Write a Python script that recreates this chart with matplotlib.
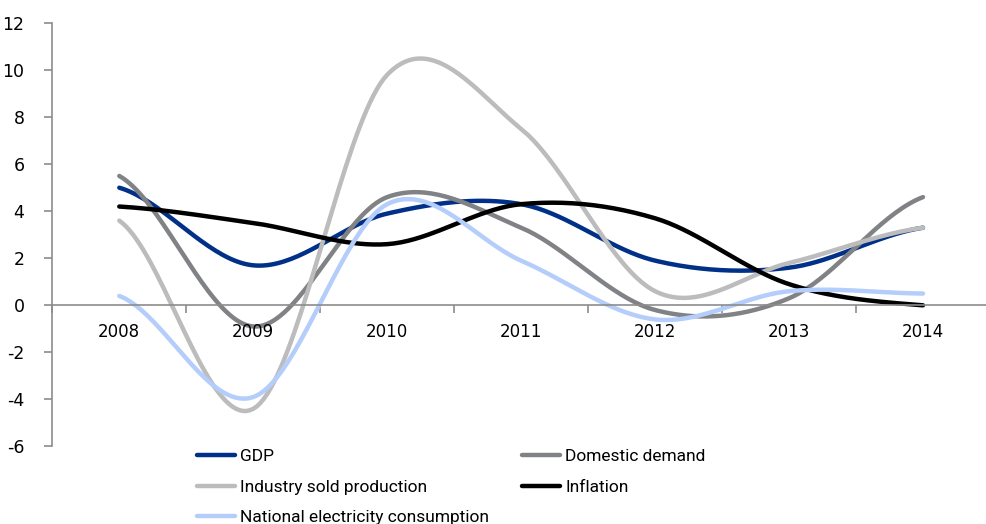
import numpy as np
import matplotlib
matplotlib.use("Agg")
import matplotlib.pyplot as plt
from matplotlib.lines import Line2D

plt.rcParams["axes.unicode_minus"] = False
plt.rcParams["font.family"] = ["DejaVu Sans"]

years = ["2008", "2009", "2010", "2011", "2012", "2013", "2014"]
gdp = [5.0, 1.7, 3.9, 4.3, 1.9, 1.6, 3.3]
domestic = [5.5, -0.9, 4.6, 3.3, -0.2, 0.3, 4.6]
industry = [3.6, -4.4, 9.8, 7.5, 0.6, 1.8, 3.3]
inflation = [4.2, 3.5, 2.6, 4.3, 3.7, 0.9, 0.0]
electricity = [0.4, -3.9, 4.3, 1.9, -0.6, 0.6, 0.5]

series = [
    ("GDP", gdp, "#003087"),
    ("Domestic demand", domestic, "#808285"),
    ("Industry sold production", industry, "#bcbcbc"),
    ("Inflation", inflation, "#000000"),
    ("National electricity consumption", electricity, "#b4cdfa"),
]


def smooth(xs, ys, n=40, tension=0.5):
    xs = np.asarray(xs, float)
    ys = np.asarray(ys, float)
    px = np.concatenate([[2 * xs[0] - xs[1]], xs, [2 * xs[-1] - xs[-2]]])
    py = np.concatenate([[ys[0]], ys, [ys[-1]]])
    outx, outy = [], []
    for i in range(1, len(px) - 2):
        p0x, p1x, p2x, p3x = px[i - 1], px[i], px[i + 1], px[i + 2]
        p0y, p1y, p2y, p3y = py[i - 1], py[i], py[i + 1], py[i + 2]
        t = np.linspace(0, 1, n)
        m1x, m1y = tension * (p2x - p0x), tension * (p2y - p0y)
        m2x, m2y = tension * (p3x - p1x), tension * (p3y - p1y)
        if i == 1:
            m1x, m1y = tension * (p2x - p1x) * 2, tension * (p2y - p1y)
        if i == len(px) - 3:
            m2x, m2y = tension * (p2x - p1x) * 2, tension * (p2y - p1y)
        h00 = 2 * t**3 - 3 * t**2 + 1
        h10 = t**3 - 2 * t**2 + t
        h01 = -2 * t**3 + 3 * t**2
        h11 = t**3 - t**2
        outx.append(h00 * p1x + h10 * m1x + h01 * p2x + h11 * m2x)
        outy.append(h00 * p1y + h10 * m1y + h01 * p2y + h11 * m2y)
    return np.concatenate(outx), np.concatenate(outy)


fig = plt.figure(figsize=(9.87, 5.24), dpi=100)
ax = fig.add_axes([0.053, 0.148, 0.95, 0.808])
x = np.arange(len(years))
for name, vals, col in series:
    sx, sy = smooth(x, vals)
    ax.plot(sx, sy, color=col, lw=3.2, solid_capstyle="round", label=name)

ax.set_xlim(-0.5, 6.5)
ax.set_ylim(-6, 12)
ax.set_yticks(range(-6, 13, 2))
ax.set_xticks(x)
ax.set_xticklabels([])
ax.set_xticks(np.arange(-0.5, 6.6, 1), minor=True)
for s in ["top", "right"]:
    ax.spines[s].set_visible(False)
ax.spines["bottom"].set_position(("data", 0))
for s in ["left", "bottom"]:
    ax.spines[s].set_color("#8c8c8c")
    ax.spines[s].set_linewidth(1.2)
ax.tick_params(axis="y", direction="out", length=6, color="#8c8c8c", width=1.2,
               labelsize=12.5, pad=14)
ax.tick_params(axis="x", which="major", length=0)
ax.tick_params(axis="x", which="minor", direction="out", length=6, color="#8c8c8c", width=1.2)
for xi, lab in zip(x, years):
    ax.text(xi, -0.75, lab, ha="center", va="top", fontsize=12)

handles = {n: Line2D([0], [0], color=c, lw=3.2, solid_capstyle="round") for n, _, c in series}
legprop = {"family": ["Roboto", "DejaVu Sans"], "size": 12.5}
col1 = ["GDP", "Industry sold production", "National electricity consumption"]
col2 = ["Domestic demand", "Inflation"]
for names, xa in ((col1, 197), (col2, 522)):
    fig.legend([handles[n] for n in names], names, loc="upper left",
               bbox_to_anchor=(xa / 987, 1 - 449 / 524), frameon=False, prop=legprop,
               handlelength=2.2, handletextpad=0.3, labelspacing=0.88,
               borderpad=0, borderaxespad=0)

fig.savefig("out.png", dpi=100)
